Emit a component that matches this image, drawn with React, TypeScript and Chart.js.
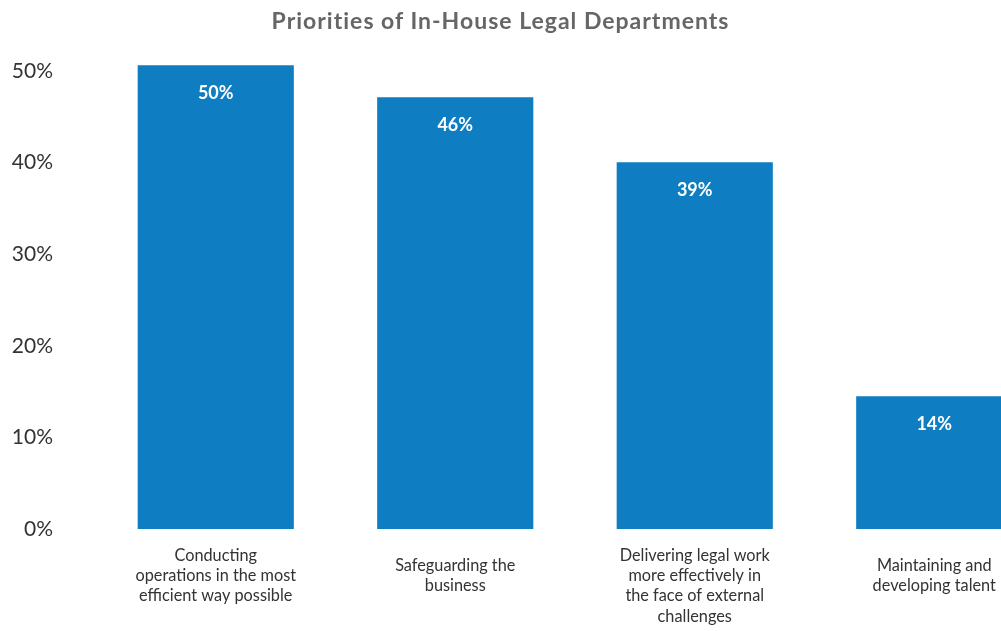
import React, { useEffect, useRef } from "react";
import { Chart, registerables } from "chart.js";

Chart.register(...registerables);

const TITLE = "Priorities of In-House Legal Departments";
const categories: string[][] = [
  ["Conducting", "operations in the most", "efficient way possible"],
  ["Safeguarding the", "business"],
  ["", "Delivering legal work", "more effectively in", "the face of external", "challenges"],
  ["Maintaining and", "developing talent"],
];
// bar heights as drawn in the picture (percent)
const values: number[] = [50.65, 47.15, 40.05, 14.5];
// labels printed inside the bars
const valueLabels: string[] = ["50%", "46%", "39%", "14%"];
const yTicks: number[] = [0, 10, 20, 30, 40, 50];

const BAR_COLOR = "#0f7dc1";
const FONT = "Lato, 'Open Sans', sans-serif";

const valueLabelPlugin = {
  id: "valueLabels",
  afterDatasetsDraw(chart: any) {
    const ctx = chart.ctx;
    const meta = chart.getDatasetMeta(0);
    ctx.save();
    ctx.fillStyle = "#ffffff";
    ctx.font = `bold 18px ${FONT}`;
    ctx.textAlign = "center";
    ctx.textBaseline = "middle";
    meta.data.forEach((bar: any, i: number) => {
      ctx.fillText(valueLabels[i], bar.x, bar.y + 28);
    });
    ctx.restore();
  },
};

export default function App() {
  const canvasRef = useRef<HTMLCanvasElement | null>(null);

  useEffect(() => {
    if (!canvasRef.current) return;
    const chart = new Chart(canvasRef.current, {
      type: "bar",
      data: {
        labels: categories,
        datasets: [
          {
            data: values,
            backgroundColor: BAR_COLOR,
            borderWidth: 0,
            barPercentage: 0.652,
            categoryPercentage: 1,
          },
        ],
      },
      options: {
        responsive: false,
        animation: false,
        devicePixelRatio: 1,
        layout: { padding: { top: 62, left: 0, right: 0, bottom: 0 } },
        plugins: {
          legend: { display: false },
          tooltip: { enabled: false },
          title: { display: false },
        },
        scales: {
          x: {
            grid: { display: false, drawTicks: false },
            border: { display: false },
            ticks: {
              color: "#333333",
              font: { family: FONT, size: 16.3, lineHeight: 1.25 },
              padding: 6,
              maxRotation: 0,
              autoSkip: false,
              crossAlign: "center",
            },
            afterFit(scale: any) {
              scale.height = 102;
            },
          },
          y: {
            min: 0,
            max: 51,
            grid: { display: false, drawTicks: false },
            border: { display: false },
            afterBuildTicks(scale: any) {
              scale.ticks = yTicks.map((v) => ({ value: v }));
            },
            ticks: {
              color: "#333333",
              font: { family: FONT, size: 21 },
              padding: 43,
              callback: (v: any) => `${v}%`,
            },
            afterFit(scale: any) {
              scale.width = 96;
            },
          },
        },
      },
      plugins: [valueLabelPlugin],
    });
    return () => chart.destroy();
  }, []);

  return (
    <div
      style={{
        position: "fixed",
        left: 0,
        top: 0,
        width: 1001,
        height: 631,
        overflow: "hidden",
        background: "#ffffff",
      }}
    >
      <canvas
        ref={canvasRef}
        width={1054}
        height={631}
        style={{ position: "absolute", left: 0, top: 0, width: 1054, height: 631 }}
      />
      <div
        style={{
          position: "absolute",
          left: 0,
          top: 6,
          width: 1001,
          textAlign: "center",
          fontFamily: FONT,
          fontWeight: 700,
          fontSize: 23,
          letterSpacing: "1px",
          lineHeight: "28px",
          color: "#666666",
        }}
      >
        {TITLE}
      </div>
    </div>
  );
}
